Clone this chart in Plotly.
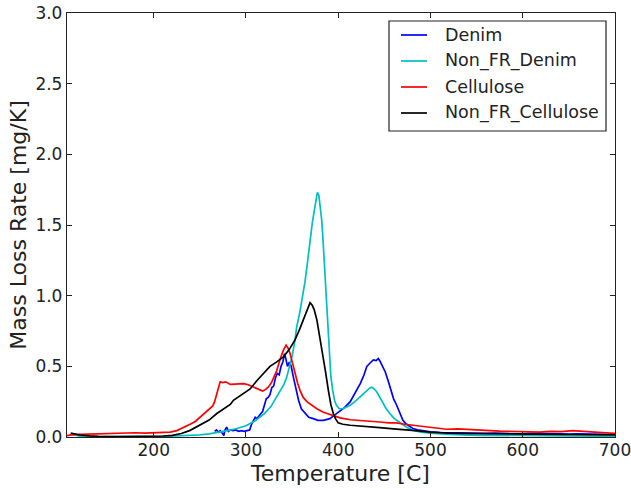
import plotly.graph_objects as go

# ---------------- data ----------------
denim_T = [266, 268, 270, 272, 274, 276, 277, 279, 281, 283, 286, 289, 292, 295, 298, 301, 304,
           306, 308, 310, 312, 314, 316, 318, 320, 322, 324, 326, 328, 330, 332, 334, 336, 338,
           340, 341.7, 343, 345, 347, 349, 351.5, 354, 357, 360, 364, 368, 373, 378, 384, 391,
           396, 402, 407, 413, 418, 424, 428, 431, 434, 438, 441, 443.5, 445, 448, 451, 454,
           457, 460, 463, 467, 470, 473, 477, 481, 486, 492, 500, 510, 520, 530, 540, 550,
           560, 570, 580, 590, 600, 610, 620, 630, 640, 650, 660, 670, 680, 690, 700]
denim_y = [0.04, 0.05, 0.035, 0.045, 0.03, 0.01, 0.045, 0.07, 0.04, 0.05, 0.045, 0.05, 0.04, 0.045,
           0.04, 0.045, 0.05, 0.09, 0.12, 0.14, 0.13, 0.15, 0.165, 0.18, 0.22, 0.27, 0.28, 0.3,
           0.35, 0.36, 0.42, 0.45, 0.44, 0.5, 0.53, 0.59, 0.56, 0.5, 0.53, 0.5, 0.42, 0.34, 0.26,
           0.2, 0.166, 0.14, 0.13, 0.118, 0.118, 0.13, 0.155, 0.185, 0.21, 0.25, 0.31, 0.38,
           0.44, 0.5, 0.52, 0.545, 0.54, 0.555, 0.54, 0.5, 0.46, 0.4, 0.33, 0.27, 0.23, 0.16,
           0.12, 0.095, 0.075, 0.06, 0.05, 0.042, 0.036, 0.032, 0.03, 0.028, 0.03, 0.026, 0.025,
           0.027, 0.024, 0.026, 0.022, 0.025, 0.023, 0.022, 0.024, 0.021, 0.022, 0.02, 0.021,
           0.019, 0.02]

nonfr_denim_T = [110, 115, 120, 130, 150, 175, 200, 215, 230, 240, 250, 260, 270, 280, 290,
                 300, 310, 320, 327, 333, 338, 341, 344, 347, 350, 353, 355, 358, 360.5, 362,
                 364, 366, 368, 370, 372, 374, 375.5, 377.4, 379, 380.5, 382, 383, 384, 385,
                 386, 387, 388, 389, 390, 391, 392, 394, 396, 398, 401, 405, 409, 413, 418,
                 423.6, 428, 431, 434, 436.3, 438, 441.7, 445, 449, 452, 456, 460, 463.4, 467,
                 470.6, 475, 481, 490, 500, 520, 550, 600, 650, 700]
nonfr_denim_y = [0.02, 0.012, 0.006, 0.003, 0.002, 0.002, 0.003, 0.005, 0.008, 0.011, 0.015,
                 0.022, 0.032, 0.045, 0.06, 0.08, 0.115, 0.165, 0.215, 0.28, 0.33, 0.37, 0.42,
                 0.49, 0.57, 0.68, 0.78, 0.87, 0.96, 1.02, 1.1, 1.2, 1.32, 1.43, 1.52, 1.6,
                 1.67, 1.73, 1.71, 1.64, 1.54, 1.45, 1.33, 1.2, 1.06, 0.95, 0.84, 0.72, 0.6,
                 0.5, 0.43, 0.33, 0.26, 0.225, 0.2, 0.2, 0.21, 0.225, 0.25, 0.283, 0.31, 0.33,
                 0.345, 0.352, 0.345, 0.32, 0.28, 0.236, 0.2, 0.166, 0.135, 0.118, 0.1, 0.083,
                 0.065, 0.047, 0.035, 0.028, 0.018, 0.012, 0.008, 0.006, 0.005]

cellulose_T = [106, 110, 120, 130, 140, 150, 160, 170, 180, 190, 200, 210, 218, 225, 232, 239.5,
               245, 250.4, 256, 261, 264, 266, 268.4, 270, 272, 275, 278, 283, 288, 293.5, 297.6,
               302.5, 306, 308, 312, 315.3, 318, 321, 324.4, 328, 331, 333.4, 337, 340.6,
               343.5, 346, 347.8, 350, 353.2, 356, 358.6, 362, 366, 371, 376.8, 384, 391,
               402, 413, 424, 435, 445, 455, 463, 472, 481, 490, 500, 510, 517.5, 530, 546,
               560, 575, 590, 605, 618, 630, 642, 654, 666, 678, 690, 700]
cellulose_y = [0.01, 0.015, 0.018, 0.02, 0.025, 0.022, 0.028, 0.026, 0.03, 0.028, 0.032, 0.033,
               0.035, 0.045, 0.065, 0.09, 0.11, 0.14, 0.17, 0.2, 0.22, 0.25, 0.31, 0.36, 0.39,
               0.385, 0.39, 0.372, 0.375, 0.378, 0.378, 0.37, 0.36, 0.354, 0.34, 0.33, 0.325,
               0.335, 0.354, 0.39, 0.43, 0.47, 0.55, 0.614, 0.65, 0.625, 0.59, 0.53, 0.449,
               0.38, 0.33, 0.28, 0.25, 0.225, 0.2, 0.175, 0.158, 0.135, 0.122, 0.118, 0.11,
               0.106, 0.1, 0.1, 0.09, 0.083, 0.075, 0.07, 0.062, 0.055, 0.058, 0.05, 0.047,
               0.042, 0.04, 0.038, 0.035, 0.04, 0.038, 0.045, 0.038, 0.035, 0.03, 0.025]

nonfr_cellulose_T = [110, 115, 120, 130, 140, 160, 180, 200, 210, 220, 230, 239.5, 250.4, 260,
                     268.4, 276, 283, 286.4, 295, 304.5, 312, 319, 326, 333, 340.6, 347, 353,
                     358, 362, 366, 369.5, 372, 374, 376.8, 379, 381.5, 384, 386.5, 389.3,
                     392, 394.7, 397, 400, 405, 413, 425, 445, 460, 474, 487, 499.5, 520,
                     550, 580, 610, 640, 670, 700]
nonfr_cellulose_y = [0.028, 0.02, 0.014, 0.008, 0.004, 0.003, 0.003, 0.004, 0.007, 0.012,
                     0.025, 0.047, 0.083, 0.12, 0.166, 0.2, 0.23, 0.26, 0.3, 0.34, 0.4, 0.45,
                     0.5, 0.53, 0.567, 0.62, 0.685, 0.76, 0.826, 0.89, 0.95, 0.93, 0.9, 0.83,
                     0.75, 0.66, 0.567, 0.45, 0.33, 0.23, 0.166, 0.13, 0.1, 0.09, 0.083, 0.075,
                     0.066, 0.058, 0.052, 0.043, 0.035, 0.028, 0.024, 0.021, 0.019, 0.017,
                     0.016, 0.015]

series_names = ["Denim", "Non_FR_Denim", "Cellulose", "Non_FR_Cellulose"]
series_T = [denim_T, nonfr_denim_T, cellulose_T, nonfr_cellulose_T]
series_y = [denim_y, nonfr_denim_y, cellulose_y, nonfr_cellulose_y]
series_colors = ["#0000ff", "#00bfbf", "#ff0000", "#000000"]

x_ticks = [200, 300, 400, 500, 600, 700]
y_ticks = [0.0, 0.5, 1.0, 1.5, 2.0, 2.5, 3.0]
x_title = "Temperature [C]"
y_title = "Mass Loss Rate [mg/K]"

# ---------------- layout constants ----------------
W, H = 631, 489
ML, MR, MT, MB = 67, 16, 13, 52
PW, PH = W - ML - MR, H - MT - MB
FONT = "DejaVu Sans"
INK = "#222222"


def px_x(px):
    return (px - ML) / PW


def px_y(py):
    return (H - MB - py) / PH


fig = go.Figure()
for name, T, y, c in zip(series_names, series_T, series_y, series_colors):
    fig.add_trace(go.Scatter(x=T, y=y, mode="lines", name=name,
                             line=dict(color=c, width=1.7)))

axis_common = dict(showline=True, linecolor=INK, linewidth=1.3, mirror="allticks",
                   ticks="inside", ticklen=5, tickwidth=1, tickcolor=INK,
                   showgrid=False, zeroline=False, automargin=False,
                   ticklabeloverflow="allow",
                   tickfont=dict(family=FONT, size=17, color=INK))

# legend box drawn in paper coordinates (matplotlib-style framed legend)
shapes = [dict(type="rect", xref="paper", yref="paper",
               x0=px_x(389), x1=px_x(606), y0=px_y(131), y1=px_y(21),
               line=dict(color=INK, width=1.2), fillcolor="white", layer="above")]
annotations = []
row0, row_gap = 35, 26
for i, (name, c) in enumerate(zip(series_names, series_colors)):
    ry = row0 + i * row_gap
    shapes.append(dict(type="line", xref="paper", yref="paper",
                       x0=px_x(401), x1=px_x(427), y0=px_y(ry), y1=px_y(ry),
                       line=dict(color=c, width=1.7), layer="above"))
    annotations.append(dict(text=name, xref="paper", yref="paper",
                            x=px_x(443), y=px_y(ry), xanchor="left", yanchor="middle",
                            showarrow=False, font=dict(family=FONT, size=17.5, color=INK)))

# x-axis title placed as text just under the tick labels
annotations.append(dict(text=x_title, xref="paper", yref="paper",
                        x=px_x(340), y=px_y(473), xanchor="center", yanchor="middle",
                        showarrow=False, font=dict(family=FONT, size=22, color=INK)))

fig.update_layout(
    template="none",
    width=W, height=H,
    margin=dict(l=ML, r=MR, t=MT, b=MB),
    paper_bgcolor="white", plot_bgcolor="white",
    font=dict(family=FONT, color=INK),
    xaxis=dict(range=[106, 700], tickvals=x_ticks, ticktext=[str(v) for v in x_ticks],
               ticklabelstandoff=-3, **axis_common),
    yaxis=dict(range=[0, 3], tickvals=y_ticks, ticktext=[f"{v:.1f}" for v in y_ticks],
               title=dict(text=y_title, font=dict(family=FONT, size=22), standoff=2),
               **axis_common),
    shapes=shapes,
    annotations=annotations,
    showlegend=False,
)

fig.write_html("out.html")
